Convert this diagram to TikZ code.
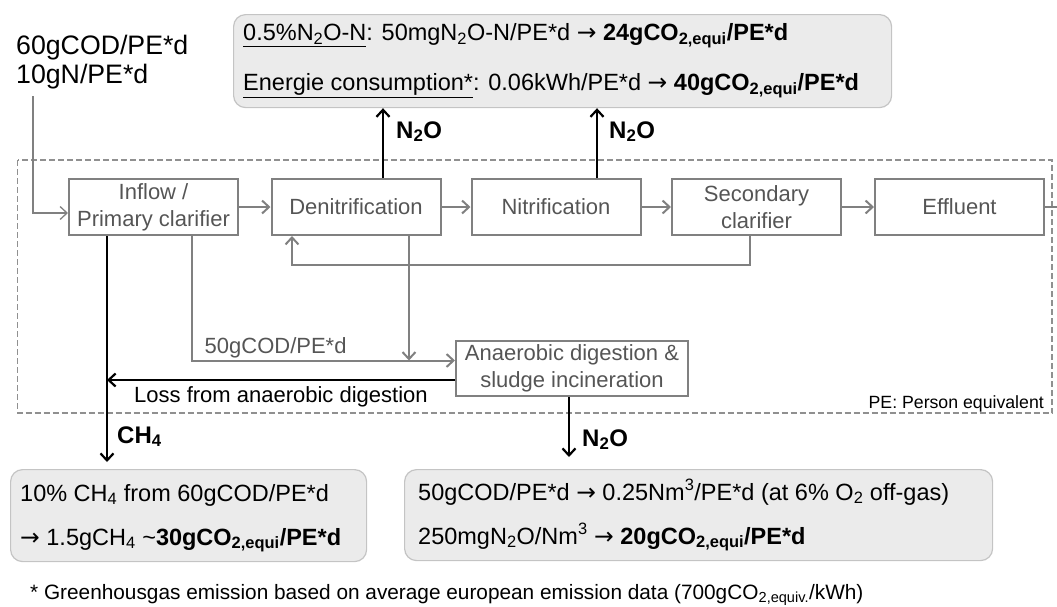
\documentclass[tikz,border=0pt]{standalone}
\usepackage{fontspec}
\setmainfont{Liberation Sans}
\newfontfamily\arrfont{DejaVu Sans}
\usetikzlibrary{arrows.meta}
\definecolor{boxgray}{HTML}{808080}
\definecolor{txtgray}{HTML}{555555}
\definecolor{infofill}{HTML}{EBEBEB}
\definecolor{infodraw}{HTML}{C4C4C4}
\definecolor{dashgray}{HTML}{909090}
\newcommand\fsz[2]{\fontsize{#1}{#2}\selectfont}
\newcommand\arr{{\arrfont\mdseries →}}
\tikzset{
  proc/.style={draw=boxgray, line width=2pt, minimum width=169pt, minimum height=56pt,
    inner sep=0pt, align=center, text=txtgray, font=\fsz{22}{27}},
  infobox/.style={draw=infodraw, fill=infofill, line width=1.2pt, rounded corners=12pt,
    inner sep=0pt, anchor=north west},
  infotext/.style={anchor=base west, inner sep=0pt, font=\fsz{23.5}{28}},
  garrow/.style={draw=boxgray, line width=2pt, -{Straight Barb[length=7pt,width=13pt]}},
  gline/.style={draw=boxgray, line width=2pt},
  barrow/.style={draw=black, line width=2.2pt, -{Straight Barb[length=7pt,width=13pt]}},
  gaslabel/.style={anchor=base west, inner sep=0pt, font=\fsz{24}{28}\bfseries},
  plain/.style={anchor=base west, inner sep=0pt},
}
\begin{document}
\begin{tikzpicture}[x=1pt,y=-1pt]
\useasboundingbox (0,0) rectangle (1057,606);

% dashed plant boundary
\draw[dashgray, line width=1.3pt, dash pattern=on 6pt off 3pt] (17.5,160) rectangle (1052,413);

% input text
\node[plain, font=\fsz{26.7}{30}] (in1) at (16,54) {60gCOD/PE*d};
\node[plain, font=\fsz{26.7}{30}] (in2) at (16,83) {10gN/PE*d};

% process boxes
\node[proc] (inflow) at (153.5,207) {Inflow /\\Primary clarifier};
\node[proc] (denit) at (356,207) {Denitrification};
\node[proc] (nitr) at (556,207) {Nitrification};
\node[proc] (sec) at (756.5,207) {Secondary\\clarifier};
\node[proc] (eff) at (959.5,207) {Effluent};
\node[proc, minimum width=232pt, minimum height=55pt] (anaer) at (572,368.5)
  {Anaerobic digestion \&\\sludge incineration};

% info boxes
\node[infobox, minimum width=658pt, minimum height=93pt] (topbox) at (233,14) {};
\node[infotext] (t1) at (243,40.6) {\underline{0.5\%N\textsubscript{2}O-N}: 50mgN\textsubscript{2}O-N/PE*d \arr{} \textbf{24gCO\textsubscript{2,equi}/PE*d}};
\node[infotext] (t2) at (243,90.5) {\underline{Energie consumption*}: 0.06kWh/PE*d \arr{} \textbf{40gCO\textsubscript{2,equi}/PE*d}};

\node[infobox, minimum width=356pt, minimum height=92pt] (blbox) at (10,469) {};
\node[infotext] (b1) at (20,501) {10\% CH\textsubscript{4} from 60gCOD/PE*d};
\node[infotext] (b2) at (20,545) {\arr{} 1.5gCH\textsubscript{4} \textasciitilde\textbf{30gCO\textsubscript{2,equi}/PE*d}};

\node[infobox, minimum width=588pt, minimum height=91pt] (brbox) at (404,469) {};
\node[infotext] (r1) at (418,500) {50gCOD/PE*d \arr{} 0.25Nm\textsuperscript{3}/PE*d (at 6\% O\textsubscript{2} off-gas)};
\node[infotext] (r2) at (418,544) {250mgN\textsubscript{2}O/Nm\textsuperscript{3} \arr{} \textbf{20gCO\textsubscript{2,equi}/PE*d}};

% input line
\coordinate (inl) at (33,96);
\draw[garrow, line width=1.3pt] (inl) |- ([yshift=-6pt]inflow.west);

% main line
\draw[garrow] (inflow) -- (denit);
\draw[garrow] (denit) -- (nitr);
\draw[garrow] (nitr) -- (sec);
\draw[garrow] (sec) -- (eff);
\coordinate (out) at (1057,207);
\draw[gline] (eff.east) -- (out);

% recycle
\coordinate (rc1) at (750,264.5);
\draw[garrow] ([xshift=-6.5pt]sec.south) -- (rc1) -| ([xshift=-64pt]denit.south);

% sludge lines
\coordinate (sl) at (192,360.5);
\draw[garrow] ([xshift=38.5pt]inflow.south) -- (sl) -- (anaer.west |- sl);
\draw[garrow] ([xshift=53pt]denit.south) -- ([xshift=53pt]denit.south |- sl);
\node[plain, text=txtgray, font=\fsz{22}{26}] (l50) at (204.5,353) {50gCOD/PE*d};

% black vertical from primary clarifier (CH4)
\coordinate (ch4end) at (107,462);
\draw[barrow] (inflow.south -| ch4end) -- (ch4end);
\node[gaslabel] (ch4) at (117,443) {CH\textsubscript{4}};

% loss arrow
\draw[barrow] ([yshift=-11.5pt]anaer.west) -- ([yshift=-11.5pt]anaer.west -| ch4end);
\node[plain, font=\fsz{22}{26}] (loss) at (134,402) {Loss from anaerobic digestion};

% N2O up arrows
\draw[barrow] ([xshift=27pt]denit.north) -- ([xshift=27pt]denit.north |- topbox.south);
\node[gaslabel] (n1) at (396,138) {N\textsubscript{2}O};
\draw[barrow] ([xshift=41pt]nitr.north) -- ([xshift=41pt]nitr.north |- topbox.south);
\node[gaslabel] (n2) at (609,138) {N\textsubscript{2}O};

% N2O down arrow
\coordinate (n2oend) at (569,457);
\draw[barrow] (anaer.south -| n2oend) -- (n2oend);
\node[gaslabel] (n3) at (582,446) {N\textsubscript{2}O};

% PE note
\node[anchor=base east, inner sep=0pt, font=\fsz{17.7}{20}] (pe) at (1044,408) {PE: Person equivalent};

% footnote
\node[plain, font=\fsz{20.8}{24}] (foot) at (30,599) {* Greenhousgas emission based on average european emission data (700gCO\textsubscript{2,equiv.}/kWh)};
\end{tikzpicture}
\end{document}
